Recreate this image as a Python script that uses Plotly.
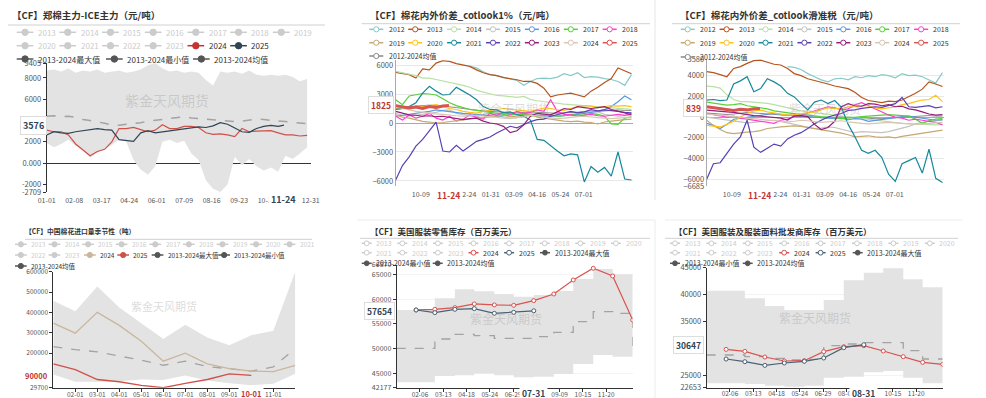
import plotly.graph_objects as go
import pandas as pd

W, H = 986, 398
FONT = "Noto Sans CJK SC"

# ============================ DATA ============================
# ---- Panel 1: 郑棉主力-ICE主力 ----
P1_DATES = pd.date_range("2024-01-01", periods=37, freq="10D")
P1_MAX = [8700, 8800, 8600, 8900, 8500, 8700, 8600, 8800, 8500, 8600, 8700, 8500, 8600, 8800, 9200, 9405,
          8900, 8600, 8700, 8500, 8600, 8500, 7800, 7300, 8600, 8500, 8600, 8400, 8700, 8300, 8200, 8300,
          8200, 8300, 8100, 7700, 7900]
P1_MIN = [1900, 1500, 1800, 2200, 1600, 1200, 500, 1000, 1300, 1700, 2200, 2000, 300, -600, -1100, -300,
          2000, 2200, 1900, 2100, 900, 300, -1600, -2400, -2709, -2000, 600, -200, 400, -300, -700, -400,
          -800, 700, 400, 900, 1500]
P1_AVG = [4400, 4450, 4350, 4400, 4300, 4100, 4000, 3900, 3750, 3600, 3550, 3650, 3700, 3800, 3950, 4000,
          4100, 4200, 4300, 4350, 4250, 4200, 4150, 4100, 4000, 3950, 3900, 3950, 4050, 4150, 4100, 4000,
          3950, 3900, 3850, 3750, 3700]
P1_2024 = [3100, 2950, 2950, 2650, 1800, 1250, 700, 1100, 1300, 2000, 3250, 3250, 3350, 3150, 2950, 3100,
           3600, 3250, 3250, 3450, 3450, 3350, 2850, 2700, 2750, 2650, 2500, 3250, 2950, 3000, 3050, 3050,
           2850, 2650, 2650, 2550, 2600]
P1_2025 = [2650, 2950, 2850, 2800, 2950, 3050, 3150, 3250, 3150, 3100, 2200, 2150, 2050, 2850, 3050, 2850,
           2950, 3050, 3100, 3250, 3350, 3400, 3350, 3500, 3800, 3650, 3300, 2950, 2900, 3250, 3450, 3550,
           3450]
P1_LAST_DATE, P1_LAST_VAL = "2024-11-24", 3576
P1_XTICKS = ["2024-01-01", "2024-02-08", "2024-03-17", "2024-04-24", "2024-06-01", "2024-07-09",
             "2024-08-16", "2024-09-23", "2024-10-31", "2024-12-31"]
P1_XTEXT = ["01-01", "02-08", "03-17", "04-24", "06-01", "07-09", "08-16", "09-23", "10-31", "12-31"]
P1_YTICKS = [-2709, -2000, 0, 2000, 6000, 8000, 9405]
P1_YTEXT = ["-2709", "-2000", "0.000", "2000", "6000", "8000", "9405"]

# ---- Panels 2 & 3: 棉花内外价差 ----
P23_DATES = pd.date_range("2023-08-29", periods=36, freq="11D")
P23_LAST_DATE = "2023-11-24"
YEARS_23 = ["2012", "2013", "2014", "2015", "2016", "2017", "2018", "2019", "2020", "2021", "2022", "2023",
            "2024", "2025"]
P2 = {
    "2012": [None] * 11 + [5860, 5700, 5300, 5000, 4900, 4750, 4550, 4400, 3900, 4300, 4600, 4650, 4600, 4750,
                           5100, 4900, 5200, 4700, 4800, 4750, 4600, 4500, 4300, 3900, 5000],
    "2013": [5240, 5100, 5000, 4650, 5600, 5500, 6200, 6450, 6380, 6150, 6000, 5860, 5500, 5200, 5000, 4900,
             4700, 4600, 4480, 4300, 4300, 4100, 3600, 2700, 2900, 3000, 3100, 2900, 2700, 3300, 3700, 4200,
             4600, 5700, 5400, 5100],
    "2014": [5340, 5200, 5100, 4900, 4650, 4650, 4500, 4350, 4200, 4100, 3900, 3700, 3400, 3200, 3000, 2850,
             2800, 2750, 2650, 2750, 2450, 2300, 2200, 2100, 2000, 1950, 1900, 1850, 1800, 1750, 1700, 1650,
             1550, 1500, 1450, 1400],
    "2015": [1000, 800, 700, 800, 900, 1000, 1100, 1300, 1350, 1000, 850, 700, 600, 900, 1000, 800, 600, 500,
             550, 800, 900, 1000, 850, 700, 750, 800, 900, 1000, 1100, 1200, 1150, 900, 800, 700, 750, 800],
    "2016": [700, 800, 850, 950, 1050, 1200, 1350, 1250, 1200, 1100, 1000, 950, 900, 850, 800, 700, 750, 800,
             900, 1000, 900, 800, 700, 750, 700, 750, 800, 900, 1000, 1100, 1200, 1400, 1700, 2200, 2800, 2400],
    "2017": [2400, 1900, 2800, 2950, 3050, 3000, 2900, 2500, 2100, 1800, 1600, 1400, 1300, 1200, 1100, 1000,
             900, 950, 850, 900, 750, 700, 800, 850, 700, 750, 900, 800, 850, 1000, 900, 700, -100, -150, 500,
             650],
    "2018": [700, 300, 850, 500, 700, 1000, 500, 300, 700, 200, 400, 850, 600, 400, 1000, 800, 1100, 900, 1200,
             1000, 1100, 1350, 1200, 2400, 1200, 900, 850, 700, 800, 900, 750, 700, 800, 900, 800, 1000],
    "2019": [850, 600, 500, 300, 170, 100, 0, 50, 150, 200, 300, 400, 500, 550, 600, 700, 800, 650, 700, 800,
             900, 600, 500, 350, 300, 200, 150, 200, 100, 50, -100, 100, 200, 300, 350, 400],
    "2020": [1400, 1500, 1550, 1650, 1700, 1800, 1900, 1700, 1500, 1400, 1200, 1100, 1030, 1200, 1300, 1400,
             1500, 1400, 1350, 1300, 1200, 1400, 1550, 1500, 1350, 1300, 1500, 1700, 1800, 1750, 1600, 1700,
             1800, 1750, 1800, 1700],
    "2021": [1400, 1500, 1700, 2100, 3100, 3800, 3300, 2900, 2950, 3700, 3300, 2900, 2400, 1700, 1400, 1350,
             1050, 1150, 850, 700, 300, -1700, -1800, -2400, -2900, -3400, -3200, -3300, -6100, -4500, -5100,
             -4600, -5500, -3000, -5800, -5900],
    "2022": [-5900, -4400, -3500, -2400, -1700, -800, 100, -2900, -3000, -2300, -2900, -2400, -1900, -1700,
             -1450, -1030, -700, -340, -500, -200, 150, 350, 400, 700, 850, 1000, 1200, 1050, 1150, 1380, 1250,
             1350, 1300, 1200, 1100, 1050],
    "2023": [1200, 1000, 850, 800, 700, 750, 650, 700, 600, 500, 350, 450, 500, 200, 0, -100, -350, -1000, -800,
             -200, 700, 1000, 900, 850, 1150, 1500, 1400, 1700, 1600, 1500, 1600, 1700, 1400, 1200, 1000, 850],
    "2024": [1700, 1500, 1350, 1200, 1100, 1000, 950, 900, 800, 750, 700, 750, 800, 700, 650, 600, 500, 450,
             550, 600, 800, 750, 600, 500, 450, 500, 600, 650, 700, 600, 550, 500, 450, 500, 550, 600],
    "2025": [1800, 1700, 1550, 1650, 1500, 1700, 1600, 1750],
}
P2_LAST = 1825
P2_AVG = [1500, 1550, 1650, 1750, 1800, 1850, 1800, 1750, 1700, 1600, 1500, 1400, 1300, 1250, 1200, 1150, 1100,
          1050, 1050, 1100, 1150, 1100, 1050, 1000, 1000, 1050, 1100, 1100, 1150, 1200, 1200, 1250, 1300, 1350,
          1300, 1300]

P3 = {
    "2012": [None] * 12 + [4870, 4800, 4600, 4200, 3900, 3600, 3400, 3700, 3750, 3600, 3900, 3800, 4000, 3900,
                           4100, 4000, 3800, 4200, 4000, 4050, 3900, 3600, 3300, 4300],
    "2013": [4390, 4300, 4100, 3900, 4700, 4870, 5190, 5450, 5500, 5300, 5100, 5030, 4700, 4200, 4000, 3700,
             3550, 3350, 3200, 3000, 2850, 2750, 2400, 1900, 1600, 1500, 1400, 1550, 1500, 1650, 1950, 2300,
             2700, 3400, 3200, 2950],
    "2014": [3000, 2950, 2800, 2150, 1700, 1500, 1500, 1450, 1400, 1320, 1200, 1050, 900, 700, 600, 500, 420,
             350, 270, 200, 100, 20, -60, -130, -200, -300, -380, -450, -520, -600, -620, -650, -700, -770, -750,
             -700],
    "2015": [0, -100, -200, -250, -350, -450, -550, -500, -400, -350, -300, -400, -550, -700, -850, -1000, -1100,
             -1050, -950, -1000, -1150, -1300, -1500, -1400, -1450, -1500, -1500, -1400, -1250, -1050, -900,
             -650, -500, -400, -350, -300],
    "2016": [-600, -800, -1100, -700, -200, -100, 0, 100, 200, 300, 350, 250, 200, 150, 100, 50, 0, -50, -100,
             -150, -100, -250, -150, -200, -400, -300, -200, -100, 0, 50, 100, 0, -100, -200, -300, -250],
    "2017": [1450, 1350, 1250, 1150, 1200, 1300, 1100, 1000, 900, 800, 600, 500, 400, 300, 250, 200, 100, 50, 0,
             -50, -150, -100, 0, 50, 100, 150, 200, 250, 200, 150, 100, -200, -600, -350, -200, -150],
    "2018": [350, 250, 100, 0, 100, -100, -200, -300, -400, -500, -600, -300, -200, 100, 200, 400, 600, 800,
             1000, 900, 700, 800, 1200, 1400, 1100, 800, 500, 200, 0, -100, -300, -200, -300, -400, -500, -750],
    "2019": [-300, -800, -1200, -1500, -1600, -1500, -1450, -1400, -1300, -1100, -1000, -950, -900, -850, -900,
             -1000, -1100, -1200, -1300, -1400, -1550, -1700, -1900, -1850, -1800, -1900, -1950, -1900, -2000,
             -1850, -1750, -1600, -1500, -1400, -1300, -1250],
    "2020": [-800, -900, -950, -700, -400, 0, 350, 600, 680, 500, 400, 300, 200, 250, 350, 450, 500, 700, 900,
             850, 800, 1000, 1000, 1100, 1100, 900, 800, 900, 1000, 1200, 1300, 1500, 1650, 1700, 2100, 1500],
    "2021": [1650, 1700, 1600, 1650, 3200, 3500, 3900, 2450, 2750, 3700, 3400, 3000, 2300, 1950, 1300, 700,
             1450, 1650, 1300, 1600, 950, -700, -1900, -3200, -3500, -3200, -3900, -5500, -6200, -4500, -4200,
             -3900, -5400, -3100, -5900, -6300],
    "2022": [-6000, -4500, -4400, -3500, -2600, -1900, -300, -2900, -3400, -3000, -2600, -2800, -2100, -1750,
             -1500, -1100, -650, -300, 0, 200, 350, 650, 700, 850, 900, 1000, 950, 1100, 1300, 1900, 1000, 950,
             1000, 1100, 900, 1000],
    "2023": [680, 600, 550, 500, 450, 350, 200, 150, 100, 50, 0, -100, -290, 100, 150, 50, -700, -1200, -1000,
             -400, 1000, 1300, 1100, 1050, 1300, 1250, 1100, 1200, 1000, 1050, 800, 700, 500, 300, 200, 250],
    "2024": [300, 250, 200, 150, 100, 0, -100, -150, -200, -300, -350, -400, -450, -400, -300, -350, -450, -500,
             -450, -400, -350, -450, -550, -600, -650, -600, -550, -500, -550, -600, -650, -700, -650, -600,
             -550, -500],
    "2025": [1000, 900, 800, 700, 650, 750, 700, 800],
}
P3_LAST = 839
P3_AVG = [400, 350, 300, 250, 300, 350, 450, 400, 350, 300, 250, 200, 150, 100, 50, 0, 0, -50, -50, 0, 50, 0,
          -50, -100, -100, -150, -150, -100, -100, 0, 0, 50, 100, 150, 100, 100]
P23_XTICKS = ["2023-10-09", "2023-12-24", "2024-01-31", "2024-03-09", "2024-04-16", "2024-05-24",
              "2024-07-01"]
P23_XTEXT = ["10-09", "12-24", "01-31", "03-09", "04-16", "05-24", "07-01"]
P2_YTICKS = [-6000, -3000, 0, 3000, 6000]
P3_YTICKS = [-6685, -6000, -4000, -2000, 0, 2000, 4000, 5580]

# ---- Panel 4: 中国棉花进口量季节性 ----
P4_MONTHS = ["01-01", "02-01", "03-01", "04-01", "05-01", "06-01", "07-01", "08-01", "09-01", "10-01",
             "11-01", "12-01"]
P4_MAX = [457000, 405000, 527000, 424000, 347000, 269000, 339000, 277000, 238000, 287000, 310000, 600000]
P4_MIN = [95000, 59000, 59000, 62000, 70000, 68000, 90000, 65000, 51000, 42000, 49000, 98000]
P4_AVG = [232000, 217000, 206000, 186000, 165000, 140000, 160000, 134000, 124000, 111000, 132000, 222000]
P4_2024 = [347000, 298000, 400000, 336000, 258000, 160000, 199000, 147000, 124000, 111000, 109000, 139000]
P4_2025 = [147000, 119000, 70000, 59000, 41000, 29700, 51000, 70000, 98000, 90000]
P4_XTICKS = ["02-01", "03-01", "04-01", "05-01", "06-01", "07-01", "08-01", "09-01", "11-01"]
P4_YTICKS = [29700, 200000, 300000, 400000, 500000, 600000]

# ---- Panels 5 & 6: monthly (month-end) ----
MONTH_ENDS = ["2024-01-31", "2024-02-29", "2024-03-31", "2024-04-30", "2024-05-31", "2024-06-30",
              "2024-07-31", "2024-08-31", "2024-09-30", "2024-10-31", "2024-11-30", "2024-12-31"]
YEAR_START = "2024-01-01"
P5_MAX = [57820, 60170, 61980, 61580, 61040, 60500, 60840, 61640, 64060, 66070, 65000, 65000]
P5_MIN = [43260, 44530, 44660, 45030, 44660, 44260, 44400, 44930, 46950, 48760, 48420, 48420]
P5_AVG = [50100, 51980, 52920, 52650, 52110, 52110, 52450, 53320, 55470, 57480, 57150, 50400]
P5_2024 = [57820, 57950, 58290, 59030, 58830, 58760, 59700, 61040, 63860, 66210, 64660, 55800]
P5_2025 = [57820, 57280, 57950, 58090, 57150, 57350, 57654]
P6_MAX = [40710, 39290, 37860, 37110, 37110, 38980, 42640, 44070, 44880, 42830, 41340, 41340]
P6_MIN = [23450, 23320, 23010, 22830, 23010, 24500, 24690, 25500, 25750, 24500, 23450, 23450]
P6_AVG = [28730, 28420, 28110, 27800, 27920, 30470, 30780, 31030, 31030, 29530, 27980, 27980]
P6_2024 = [29780, 29410, 28350, 27610, 27670, 29350, 30280, 30470, 29470, 28420, 27360, 26990]
P6_2025 = [27980, 27480, 26800, 27240, 27550, 28170, 30090, 30647]
P5_XTICKS = ["2024-02-06", "2024-03-13", "2024-04-18", "2024-05-24", "2024-06-29", "2024-09-09",
             "2024-10-15", "2024-11-20"]
P5_XTEXT = ["02-06", "03-13", "04-18", "05-24", "06-29", "09-09", "10-15", "11-20"]
P6_XTICKS = ["2024-02-06", "2024-03-13", "2024-04-18", "2024-05-24", "2024-06-29", "2024-08-04",
             "2024-10-15", "2024-11-20"]
P6_XTEXT = ["02-06", "03-13", "04-18", "05-24", "06-29", "08-04", "10-15", "11-20"]
P5_YTICKS = [42177, 45000, 50000, 55000, 60000, 65000, 66870]
P6_YTICKS = [22653, 25000, 35000, 40000, 45000]

TITLES = ["【CF】郑棉主力-ICE主力（元/吨）", "【CF】棉花内外价差_cotlook1%（元/吨）",
          "【CF】棉花内外价差_cotlook滑准税（元/吨）", "【CF】中国棉花进口量季节性（吨）",
          "【CF】美国服装零售库存（百万美元）", "【CF】美国服装及服装面料批发商库存（百万美元）"]
WATERMARK = "紫金天风期货"

# ============================ STYLE ============================
YEAR_COLORS = {"2012": "#86cbc8", "2013": "#b5541c", "2014": "#b9e0a5", "2015": "#c3c3c3",
               "2016": "#5898e0", "2017": "#58cf3a", "2018": "#ff3dcf", "2019": "#c6a871",
               "2020": "#ffc21a", "2021": "#16899a", "2022": "#5a40b3", "2023": "#951d77",
               "2024": "#d8c6b0", "2025": "#d9534f"}
RED = "#c23531"
NAVY = "#2f4554"
DIS = "#cccccc"
STAT = "#555555"
BAND = "#e3e3e3"
AVGC = "#a3a3a3"


def dx(px):
    return px / W


def dy(py):
    return 1 - py / H


fig = go.Figure()


def add(x, y, ax, color, width=1.2, dash=None, shape="linear", fill=None, fillcolor=None, marker=False):
    kw = dict(x=list(x), y=list(y), xaxis="x" + ax, yaxis="y" + ax, mode="lines", showlegend=False,
              hoverinfo="skip", line=dict(color=color, width=width, dash=dash, shape=shape))
    if fill:
        kw["fill"] = fill
        kw["fillcolor"] = fillcolor
    if marker:
        kw["mode"] = "lines+markers"
        kw["marker"] = dict(symbol="circle", size=4, color="white", line=dict(color=color, width=1))
    fig.add_trace(go.Scatter(**kw))


# ---- Panel 1 ----
add(P1_DATES, P1_MAX, "", BAND, width=0)
add(P1_DATES, P1_MIN, "", BAND, width=0, fill="tonexty", fillcolor=BAND)
add(P1_DATES, P1_AVG, "", AVGC, width=1.5, dash="dash")
add(P1_DATES, P1_2024, "", "#d0504a", width=1.2)
add(list(P1_DATES[:len(P1_2025)]) + [pd.Timestamp(P1_LAST_DATE)], P1_2025 + [P1_LAST_VAL], "", NAVY, width=1.2)

# ---- Panels 2 & 3 ----
for data, avg, last, ax in [(P2, P2_AVG, P2_LAST, "2"), (P3, P3_AVG, P3_LAST, "3")]:
    add(P23_DATES, avg, ax, "#8c8c8c", width=1)
    for yr in YEARS_23:
        vals = data[yr]
        if yr == "2025":
            add(list(P23_DATES[:len(vals)]) + [pd.Timestamp(P23_LAST_DATE)], vals + [last], ax,
                YEAR_COLORS[yr], width=3)
        else:
            add(P23_DATES, vals, ax, YEAR_COLORS[yr], width=1.2)

# ---- Panel 4 ----
add(P4_MONTHS, P4_MAX, "4", BAND, width=0)
add(P4_MONTHS, P4_MIN, "4", BAND, width=0, fill="tonexty", fillcolor=BAND)
add(P4_MONTHS, P4_AVG, "4", AVGC, width=1.3, dash="dash")
add(P4_MONTHS, P4_2024, "4", "#c9b79c", width=1.3)
add(P4_MONTHS[:len(P4_2025)], P4_2025, "4", "#d0504a", width=1.3)

# ---- Panels 5 & 6 ----
for mx, mn, av, d24, d25, ax in [(P5_MAX, P5_MIN, P5_AVG, P5_2024, P5_2025, "5"),
                                 (P6_MAX, P6_MIN, P6_AVG, P6_2024, P6_2025, "6")]:
    bx = [YEAR_START] + MONTH_ENDS
    add(bx, [mx[0]] + mx, ax, BAND, width=0, shape="hv")
    add(bx, [mn[0]] + mn, ax, BAND, width=0, shape="hv", fill="tonexty", fillcolor=BAND)
    add(bx, [av[0]] + av, ax, AVGC, width=1.3, dash="dash", shape="hv")
    add(MONTH_ENDS, d24, ax, "#d9534f", width=1.2, marker=True)
    add(MONTH_ENDS[:len(d25)], d25, ax, "#4a6274", width=1.2, marker=True)

# ============================ LAYOUT ============================
TICKC = "#555555"


def yax(domain, anchor, rng, tickvals, ticktext=None, fs=7.5, line="#333333", ticks="outside", grid=None,
        zero=None):
    d = dict(domain=[dy(domain[1]), dy(domain[0])], anchor=anchor, range=rng, tickvals=tickvals,
             tickformat="d", automargin=False,
             tickfont=dict(size=fs, color=TICKC, family=FONT), showline=True, linecolor=line, linewidth=1,
             ticks=ticks, ticklen=3, tickcolor=line, showgrid=grid is not None, fixedrange=True)
    if ticktext:
        d["ticktext"] = ticktext
    if grid:
        d["gridcolor"] = grid
        d["gridwidth"] = 1
    if zero:
        d["zeroline"] = True
        d["zerolinecolor"] = zero
        d["zerolinewidth"] = 1
    else:
        d["zeroline"] = False
    return d


def xax(domain, anchor, rng, tickvals, ticktext=None, fs=7, typ="date", showline=False, ticks="", standoff=0):
    d = dict(domain=[dx(domain[0]), dx(domain[1])], anchor=anchor, range=rng, tickvals=tickvals, type=typ,
             automargin=False, ticklabelstandoff=standoff,
             tickfont=dict(size=fs, color=TICKC, family=FONT), showline=showline, linecolor="#333333",
             ticks=ticks, ticklen=3, tickcolor="#333333", showgrid=False, zeroline=False, fixedrange=True)
    if ticktext:
        d["ticktext"] = ticktext
    return d


layout = dict(
    width=W, height=H, margin=dict(l=0, r=0, t=0, b=0, pad=0, autoexpand=False), paper_bgcolor="white",
    plot_bgcolor="white", showlegend=False, font=dict(family=FONT),
    xaxis=xax((46.7, 311.1), "y", ["2024-01-01", "2024-12-31 12:00"], P1_XTICKS, P1_XTEXT, fs=7, standoff=3),
    yaxis=yax((63, 192), "x", [-2709, 9405], P1_YTICKS, P1_YTEXT, fs=7.5, zero="#333333"),
    xaxis2=xax((395.7, 632.7), "y2", ["2023-08-29", "2024-09-19"], P23_XTICKS, P23_XTEXT, fs=7, standoff=3),
    yaxis2=yax((60.2, 185.8), "x2", [-6500, 6500], P2_YTICKS, fs=7.5, line="#aaaaaa", ticks="",
               grid="#e8e8e8", zero="#aaaaaa"),
    xaxis3=xax((706.7, 943.7), "y3", ["2023-08-29", "2024-09-19"], P23_XTICKS, P23_XTEXT, fs=7, standoff=3),
    yaxis3=yax((59.3, 186.4), "x3", [-6685, 5580], P3_YTICKS, fs=7.5, line="#aaaaaa", ticks="",
               grid="#e8e8e8", zero="#aaaaaa"),
    xaxis4=xax((53.3, 295.3), "y4", [0, 11], P4_XTICKS, fs=6.5, typ="category", showline=True,
               ticks="outside", standoff=-3),
    yaxis4=yax((271.7, 387.7), "x4", [29700, 600000], P4_YTICKS, fs=6.5),
    xaxis5=xax((396.7, 632.7), "y5", ["2024-01-01", "2024-12-31"], P5_XTICKS, P5_XTEXT, fs=6.5,
               showline=True, ticks="outside", standoff=-3),
    yaxis5=yax((265, 387.7), "x5", [42177, 66870], P5_YTICKS, fs=7, grid="#f3f3f3"),
    xaxis6=xax((706.7, 942.7), "y6", ["2024-01-01", "2024-12-31"], P6_XTICKS, P6_XTEXT, fs=6.5,
               showline=True, ticks="outside", standoff=-3),
    yaxis6=yax((267.7, 387.6), "x6", [22653, 45000], P6_YTICKS, fs=7.5, grid="#f3f3f3"),
)
layout["xaxis4"]["categoryorder"] = "array"
layout["xaxis4"]["categoryarray"] = P4_MONTHS

shapes = []
annotations = []


def hline(x0, x1, y, color="#d0d0d0", width=1):
    shapes.append(dict(type="line", xref="paper", yref="paper", x0=dx(x0), x1=dx(x1), y0=dy(y), y1=dy(y),
                       line=dict(color=color, width=width), layer="below"))


def vline(x, y0, y1, color="#e6e6e6", width=1):
    shapes.append(dict(type="line", xref="paper", yref="paper", x0=dx(x), x1=dx(x), y0=dy(y0), y1=dy(y1),
                       line=dict(color=color, width=width), layer="below"))


def text(t, x, y, size, color="#333333", xanchor="left", bold=False, **kw):
    annotations.append(dict(text=("<b>%s</b>" % t) if bold else t, x=x, y=y, xref=kw.pop("xref", "paper"),
                            yref=kw.pop("yref", "paper"), xanchor=xanchor, yanchor="middle", showarrow=False,
                            font=dict(size=size, color=color, family=FONT), **kw))


# panel frames & title underlines
vline(655, 0, 200)
hline(357, 655, 220, color="#ececec")
vline(655, 220, 398, color="#ececec")
hline(665, 962, 220, color="#ececec")
for (x0, x1, y) in [(8, 325, 25), (361.7, 650, 23.7), (672, 960, 23.7), (25, 312, 239.3), (360, 650, 238.3),
                    (665, 958, 238.3)]:
    hline(x0, x1, y)

# titles
for t, (x, y, fs) in zip(TITLES, [(10, 15.5, 9.5), (368, 15, 9.5), (678, 15, 9.5), (23, 230.7, 6.8),
                                  (368, 230.7, 8.5), (671.7, 230.7, 8.5)]):
    text(t, dx(x), dy(y), fs, color="#333333", bold=True)

# watermarks
for (x, y, fs) in [(167, 100, 14), (514, 108, 12), (825, 108, 12), (164, 306, 11), (506, 318, 12),
                   (815, 317, 12)]:
    text(WATERMARK, dx(x), dy(y), fs, color="rgba(150,150,150,0.35)", xanchor="center")


# legends (drawn as icons + text)
def legend_item(x, y, label, color, enabled, filled, icon_len, r, gap, fs):
    c = color if enabled else DIS
    tc = "#333333" if enabled else DIS
    shapes.append(dict(type="line", xref="paper", yref="paper", x0=dx(x), x1=dx(x + icon_len), y0=dy(y),
                       y1=dy(y), line=dict(color=c, width=1.5)))
    cx = x + icon_len / 2
    shapes.append(dict(type="circle", xref="paper", yref="paper", x0=dx(cx - r), x1=dx(cx + r), y0=dy(y + r),
                       y1=dy(y - r), fillcolor=c if filled else "white", line=dict(color=c, width=1)))
    text(label, dx(x + icon_len + gap), dy(y), fs, color=tc)


STAT_NAMES = ["2013-2024最大值", "2013-2024最小值", "2013-2024均值"]

# Panel 1 legend
p1_years = [str(y) for y in range(2013, 2026)]
for k, yr in enumerate(p1_years):
    row, col = divmod(k, 7)
    en = yr in ("2024", "2025")
    col_c = RED if yr == "2024" else NAVY
    legend_item(16.7 + 42.7 * col, 32.3 + 13.4 * row, yr, col_c, en, True, 16.7, 3.2, 2.5, 8)
for name, x in zip(STAT_NAMES, [16.7, 106, 193]):
    legend_item(x, 59, name, STAT, True, True, 16.7, 3.2, 2.5, 8)

# Panels 2 & 3 legends
for x0, ys in [(369.3, (29.3, 42.7, 56)), (680.7, (29.3, 42.7, 57))]:
    for k, yr in enumerate(YEARS_23):
        row, col = divmod(k, 7)
        legend_item(x0 + 38.9 * col, ys[row], yr, YEAR_COLORS[yr], True, False, 14, 2.6, 3.2, 7)
    legend_item(x0, ys[2], "2012-2024均值", "#888888", True, False, 14, 2.6, 3.2, 7)

# Panel 4 legend
p4_colors = {"2024": "#c9b79c", "2025": "#d0504a"}
for k, yr in enumerate([str(y) for y in range(2013, 2022)]):
    legend_item(15 + 33.6 * k, 244.3, yr, DIS, False, True, 11.7, 2.6, 2.4, 6.5)
for yr, x in zip(["2022", "2023", "2024", "2025"], [15, 48.6, 84, 117.3]):
    legend_item(x, 255, yr, p4_colors.get(yr, DIS), yr in p4_colors, True, 11.7, 2.6, 2.4, 6.5)
legend_item(151.7, 255, STAT_NAMES[0], STAT, True, True, 11.7, 2.6, 2.4, 6.5)
legend_item(218.3, 255, STAT_NAMES[1], STAT, True, True, 11.7, 2.6, 2.4, 6.5)
legend_item(15, 266, STAT_NAMES[2], STAT, True, True, 11.7, 2.6, 2.4, 6.5)

# Panels 5 & 6 legends
p56_colors = {"2024": "#d9534f", "2025": "#4a6274"}
for x0, pitch, stat_x in [(361.7, 35.6, (540, 361.7, 432.7)), (670, 36.4, (852.7, 670, 742.7))]:
    for k, yr in enumerate([str(y) for y in range(2013, 2021)]):
        legend_item(x0 + pitch * k, 243.3, yr, DIS, False, False, 10, 2.4, 2.6, 7)
    for k, yr in enumerate(["2021", "2022", "2023", "2024", "2025"]):
        legend_item(x0 + pitch * k, 252.7, yr, p56_colors.get(yr, DIS), yr in p56_colors, False, 10, 2.4, 2.6, 7)
    legend_item(stat_x[0], 252.7, STAT_NAMES[0], STAT, True, True, 10, 2.4, 2.6, 7)
    legend_item(stat_x[1], 263.3, STAT_NAMES[1], STAT, True, True, 10, 2.4, 2.6, 7)
    legend_item(stat_x[2], 263.3, STAT_NAMES[2], STAT, True, True, 10, 2.4, 2.6, 7)

# axis pointer labels
ptr = dict(bgcolor="white", borderpad=2)
text(str(P1_LAST_VAL), dx(46.5), P1_LAST_VAL, 9, color=NAVY, xanchor="right", bold=True, yref="y",
     bordercolor="#dddddd", borderwidth=1, **ptr)
text("11-24", P1_LAST_DATE, dy(200), 9, color=NAVY, xanchor="center", bold=True, xref="x", **ptr)
text(str(P2_LAST), dx(393.5), P2_LAST, 8.5, color=RED, xanchor="right", bold=True, yref="y2",
     bordercolor="#dddddd", borderwidth=1, **ptr)
text("11-24", P23_LAST_DATE, dy(195), 8.5, color=RED, xanchor="center", bold=True, xref="x2", **ptr)
text(str(P3_LAST), dx(703.5), P3_LAST, 8.5, color=RED, xanchor="right", bold=True, yref="y3",
     bordercolor="#dddddd", borderwidth=1, **ptr)
text("11-24", P23_LAST_DATE, dy(195), 8.5, color=RED, xanchor="center", bold=True, xref="x3", **ptr)
text(str(P4_2025[-1]), dx(51), P4_2025[-1], 7.5, color=RED, xanchor="right", bold=True, yref="y4", **ptr)
text(P4_MONTHS[len(P4_2025) - 1], len(P4_2025) - 1, dy(393.5), 7.5, color=RED, xanchor="center", bold=True,
     xref="x4", **ptr)
text(str(P5_2025[-1]), dx(394.5), P5_2025[-1], 8.5, color=NAVY, xanchor="right", bold=True, yref="y5",
     bordercolor="#dddddd", borderwidth=1, **ptr)
text("07-31", MONTH_ENDS[len(P5_2025) - 1], dy(393), 8.5, color=NAVY, xanchor="center", bold=True,
     xref="x5", **ptr)
text(str(P6_2025[-1]), dx(704), P6_2025[-1], 8.5, color=NAVY, xanchor="right", bold=True, yref="y6",
     bordercolor="#dddddd", borderwidth=1, **ptr)
text("08-31", MONTH_ENDS[len(P6_2025) - 1], dy(393), 8.5, color=NAVY, xanchor="center", bold=True,
     xref="x6", **ptr)

layout["shapes"] = shapes
layout["annotations"] = annotations
fig.update_layout(**layout)
fig.write_html("out.html", config={"displayModeBar": False, "staticPlot": True},
               post_script="document.body.style.margin='0';document.body.style.overflow='hidden';")
